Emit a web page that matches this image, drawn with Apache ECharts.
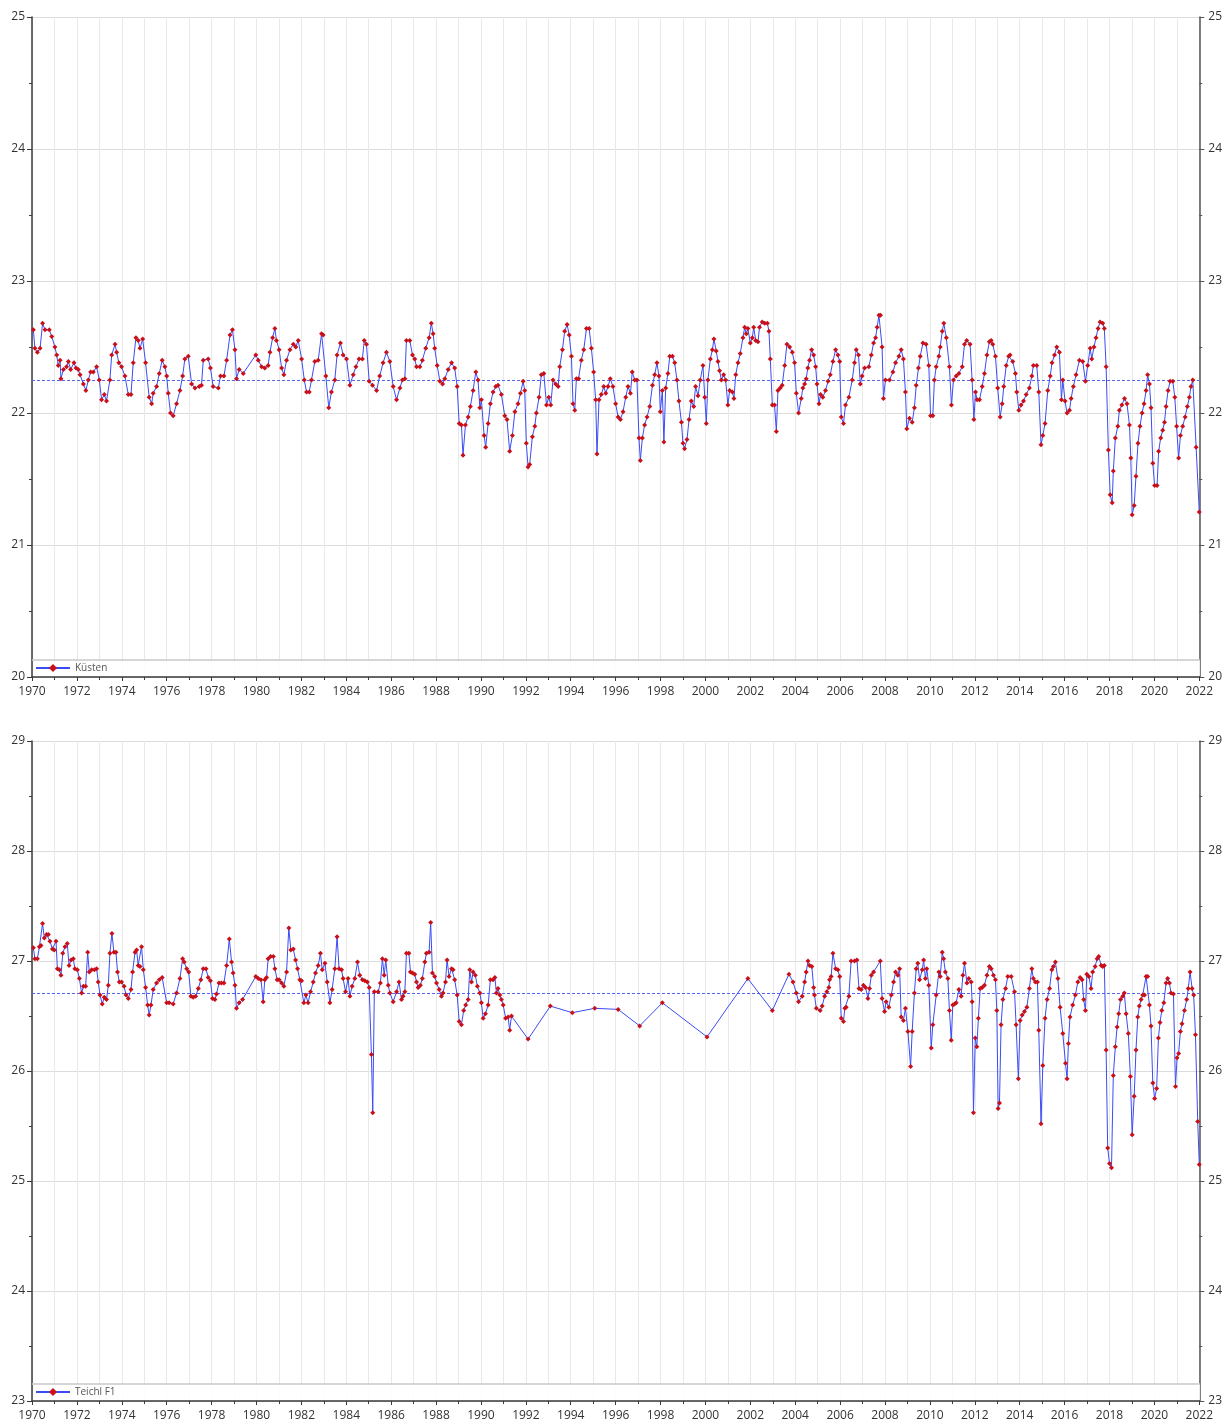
<!DOCTYPE html>
<html><head><meta charset="utf-8">
<script src="https://cdn.jsdelivr.net/npm/echarts@6/dist/echarts.min.js"></script>
<style>html,body{margin:0;padding:0;background:#fff}#c{width:1225px;height:1423px}</style>
</head><body><div id="c"></div>
<script>
// ---- data ----
const xRange = [1970, 2022];
const xStep = 2;

const kuestenName = 'Küsten';
const kuestenRange = [20, 25];
const kuestenMean = 22.25;
const kuestenData = [
[1970.06,22.63],[1970.13,22.49],[1970.24,22.46],[1970.36,22.49],[1970.47,22.68],[1970.58,22.63],[1970.77,22.63],[1970.88,22.58],[1971.02,22.50],[1971.10,22.44],[1971.17,22.36],[1971.25,22.40],[1971.29,22.26],[1971.40,22.33],[1971.54,22.35],[1971.62,22.39],[1971.72,22.33],[1971.87,22.38],[1971.96,22.34],[1972.06,22.33],[1972.14,22.29],[1972.29,22.22],[1972.40,22.17],[1972.51,22.25],[1972.61,22.31],[1972.73,22.31],[1972.88,22.35],[1973.00,22.25],[1973.10,22.10],[1973.22,22.14],[1973.32,22.09],[1973.47,22.25],[1973.55,22.44],[1973.70,22.52],[1973.77,22.46],[1973.87,22.38],[1973.99,22.35],[1974.14,22.28],[1974.29,22.14],[1974.41,22.14],[1974.51,22.38],[1974.63,22.57],[1974.73,22.55],[1974.81,22.49],[1974.93,22.56],[1975.06,22.38],[1975.22,22.12],[1975.33,22.07],[1975.40,22.15],[1975.55,22.20],[1975.67,22.30],[1975.80,22.40],[1975.92,22.35],[1976.00,22.28],[1976.07,22.15],[1976.17,22.00],[1976.29,21.98],[1976.44,22.07],[1976.59,22.17],[1976.71,22.28],[1976.81,22.41],[1976.96,22.43],[1977.11,22.22],[1977.26,22.19],[1977.45,22.20],[1977.55,22.21],[1977.63,22.40],[1977.85,22.41],[1977.95,22.34],[1978.07,22.20],[1978.30,22.19],[1978.40,22.28],[1978.55,22.28],[1978.67,22.40],[1978.82,22.59],[1978.93,22.63],[1979.04,22.48],[1979.11,22.26],[1979.23,22.33],[1979.41,22.30],[1979.97,22.44],[1980.08,22.40],[1980.23,22.35],[1980.37,22.34],[1980.52,22.36],[1980.60,22.46],[1980.72,22.57],[1980.82,22.64],[1980.89,22.55],[1981.01,22.48],[1981.12,22.34],[1981.22,22.29],[1981.34,22.40],[1981.49,22.48],[1981.64,22.52],[1981.75,22.50],[1981.86,22.55],[1982.01,22.41],[1982.13,22.25],[1982.23,22.16],[1982.35,22.16],[1982.45,22.25],[1982.60,22.39],[1982.75,22.40],[1982.90,22.60],[1982.97,22.59],[1983.09,22.28],[1983.22,22.04],[1983.34,22.16],[1983.49,22.25],[1983.59,22.44],[1983.74,22.53],[1983.86,22.44],[1984.01,22.41],[1984.16,22.21],[1984.31,22.29],[1984.43,22.35],[1984.57,22.41],[1984.72,22.41],[1984.80,22.55],[1984.90,22.52],[1985.02,22.24],[1985.17,22.21],[1985.35,22.17],[1985.49,22.28],[1985.64,22.38],[1985.79,22.46],[1985.94,22.39],[1986.09,22.20],[1986.24,22.10],
[1986.39,22.19],[1986.50,22.25],[1986.61,22.26],[1986.68,22.55],[1986.83,22.55],[1986.95,22.44],[1987.05,22.41],[1987.13,22.35],[1987.28,22.35],[1987.39,22.40],[1987.54,22.49],[1987.69,22.57],[1987.79,22.68],[1987.87,22.60],[1987.94,22.49],[1988.05,22.36],[1988.17,22.24],[1988.29,22.22],[1988.39,22.26],[1988.54,22.33],[1988.69,22.38],[1988.83,22.34],[1988.94,22.20],[1989.03,21.92],[1989.13,21.91],[1989.20,21.68],[1989.31,21.91],[1989.43,21.97],[1989.53,22.05],[1989.65,22.17],[1989.77,22.31],[1989.87,22.25],[1989.95,22.04],[1990.02,22.10],[1990.14,21.83],[1990.21,21.74],[1990.32,21.92],[1990.42,22.07],[1990.54,22.16],[1990.66,22.20],[1990.76,22.21],[1990.91,22.14],[1991.06,21.98],[1991.16,21.95],[1991.28,21.71],[1991.40,21.83],[1991.51,22.01],[1991.65,22.07],[1991.76,22.15],[1991.88,22.24],[1991.95,22.17],[1992.02,21.77],[1992.10,21.59],[1992.17,21.61],[1992.29,21.82],[1992.40,21.90],[1992.47,22.00],[1992.59,22.12],[1992.69,22.29],[1992.80,22.30],[1992.92,22.06],[1993.02,22.12],[1993.11,22.06],[1993.21,22.25],[1993.33,22.22],[1993.44,22.20],[1993.51,22.35],[1993.63,22.48],[1993.73,22.62],[1993.84,22.67],[1993.93,22.59],[1994.03,22.43],[1994.10,22.07],[1994.18,22.02],[1994.25,22.26],[1994.35,22.26],[1994.47,22.40],[1994.58,22.48],[1994.70,22.64],[1994.82,22.64],[1994.92,22.49],[1995.02,22.31],[1995.11,22.10],[1995.17,21.69],[1995.26,22.10],[1995.36,22.14],[1995.47,22.20],[1995.56,22.15],[1995.66,22.20],[1995.76,22.26],[1995.88,22.20],[1996.00,22.07],[1996.11,21.97],[1996.21,21.95],[1996.33,22.01],[1996.45,22.12],[1996.55,22.20],[1996.66,22.15],[1996.74,22.31],[1996.85,22.25],[1996.95,22.25],[1997.04,21.81],[1997.10,21.64],[1997.19,21.81],[1997.29,21.91],[1997.40,21.97],[1997.52,22.05],[1997.64,22.21],[1997.74,22.29],[1997.84,22.38],[1997.93,22.28],[1997.99,22.01],[1998.08,22.17],[1998.15,21.78],[1998.23,22.19],[1998.33,22.30],[1998.41,22.43],[1998.53,22.43],[1998.63,22.38],[1998.73,22.25],[1998.82,22.09],[1998.93,21.93],[1999.00,21.77],[1999.07,21.73],[1999.18,21.80],[1999.27,21.95],[1999.37,22.09],[1999.48,22.05],[1999.56,22.20],[1999.67,22.13],[1999.77,22.25],[1999.89,22.36],[1999.97,22.12],[2000.04,21.92],[2000.11,22.25],[2000.22,22.41],[2000.31,22.48],[2000.38,22.56],[2000.48,22.47],[2000.56,22.39],[2000.63,22.32],[2000.71,22.25],[2000.81,22.29],[2000.90,22.25],[2001.00,22.06],[2001.08,22.17],[2001.20,22.16],[2001.27,22.11],[2001.35,22.29],[2001.45,22.38],[2001.55,22.45],[2001.67,22.57],[2001.75,22.65],[2001.82,22.60],[2001.89,22.64],[2002.00,22.53],[2002.09,22.57],[2002.15,22.65],[2002.24,22.55],[2002.34,22.54],[2002.41,22.65],[2002.53,22.69],[2002.64,22.68],[2002.76,22.68],[2002.83,22.62],[2002.89,22.41],[2002.98,22.06],[2003.08,22.06],[2003.16,21.86],[2003.23,22.17],[2003.33,22.19],[2003.42,22.21],[2003.53,22.36],[2003.63,22.52],[2003.75,22.50],[2003.87,22.46],[2003.97,22.38],[2004.05,22.15],[2004.15,22.00],
[2004.27,22.11],[2004.34,22.19],[2004.42,22.22],[2004.49,22.26],[2004.56,22.34],[2004.64,22.40],[2004.73,22.48],[2004.82,22.44],[2004.91,22.35],[2004.97,22.22],[2005.06,22.07],[2005.13,22.14],[2005.23,22.12],[2005.35,22.17],[2005.46,22.24],[2005.56,22.29],[2005.68,22.39],[2005.80,22.48],[2005.90,22.44],[2005.98,22.39],[2006.05,21.97],[2006.15,21.92],[2006.24,22.06],[2006.39,22.12],[2006.54,22.25],[2006.64,22.38],[2006.72,22.48],[2006.82,22.44],[2006.90,22.22],[2006.98,22.28],[2007.09,22.34],[2007.28,22.35],[2007.39,22.44],[2007.49,22.53],[2007.58,22.57],[2007.65,22.65],[2007.73,22.74],[2007.80,22.74],[2007.87,22.50],[2007.93,22.11],[2008.02,22.25],[2008.20,22.25],[2008.35,22.31],[2008.47,22.38],[2008.62,22.43],[2008.72,22.48],[2008.82,22.41],[2008.91,22.16],[2008.97,21.88],[2009.09,21.96],[2009.21,21.93],[2009.31,22.04],[2009.39,22.21],[2009.49,22.34],[2009.57,22.43],[2009.69,22.53],[2009.83,22.52],[2009.95,22.36],[2010.03,21.98],[2010.13,21.98],[2010.20,22.25],[2010.28,22.35],[2010.40,22.43],[2010.46,22.50],[2010.55,22.62],[2010.62,22.68],[2010.73,22.57],[2010.87,22.35],[2010.96,22.06],[2011.05,22.25],[2011.17,22.28],[2011.29,22.30],[2011.44,22.35],[2011.54,22.52],[2011.64,22.55],[2011.79,22.52],[2011.88,22.25],[2011.96,21.95],[2012.03,22.16],[2012.10,22.10],[2012.21,22.10],[2012.33,22.20],[2012.43,22.30],[2012.54,22.44],[2012.65,22.54],[2012.73,22.55],[2012.80,22.52],[2012.92,22.43],[2013.02,22.19],[2013.13,21.97],[2013.22,22.07],[2013.29,22.20],[2013.40,22.36],[2013.51,22.43],[2013.57,22.44],[2013.69,22.39],[2013.81,22.30],[2013.87,22.16],[2013.96,22.02],[2014.06,22.06],[2014.17,22.09],[2014.29,22.14],[2014.43,22.19],[2014.54,22.28],[2014.61,22.36],[2014.76,22.36],[2014.85,22.16],[2014.95,21.76],[2015.03,21.83],[2015.13,21.92],[2015.25,22.17],[2015.36,22.28],[2015.44,22.38],[2015.55,22.44],[2015.65,22.50],[2015.77,22.46],[2015.86,22.10],[2015.92,22.25],[2016.02,22.09],[2016.11,22.00],[2016.22,22.02],[2016.29,22.11],[2016.39,22.20],[2016.51,22.29],[2016.66,22.40],[2016.81,22.39],[2016.93,22.24],[2017.03,22.36],[2017.14,22.49],[2017.21,22.41],[2017.31,22.50],[2017.40,22.57],[2017.49,22.64],[2017.58,22.69],[2017.70,22.68],[2017.77,22.64],[2017.85,22.35],[2017.95,21.72],[2018.03,21.38],[2018.12,21.32],[2018.17,21.56],[2018.26,21.81],[2018.37,21.90],[2018.44,22.02],[2018.55,22.06],[2018.67,22.11],[2018.78,22.07],[2018.89,21.91],[2018.95,21.66],[2019.01,21.23],[2019.10,21.30],[2019.18,21.52],[2019.27,21.77],[2019.36,21.90],[2019.45,22.00],[2019.54,22.07],[2019.63,22.17],[2019.70,22.29],[2019.78,22.22],[2019.85,22.04],[2019.93,21.62],[2020.01,21.45],[2020.12,21.45],[2020.19,21.71],[2020.28,21.81],[2020.37,21.87],[2020.45,21.93],[2020.52,22.05],[2020.61,22.17],[2020.70,22.24],[2020.82,22.24],[2020.91,22.12],[2020.99,21.90],[2021.08,21.66],[2021.16,21.83],[2021.26,21.90],[2021.37,21.97],[2021.47,22.05],[2021.56,22.12],[2021.63,22.20],[2021.71,22.25],[2021.86,21.74],[2022.00,21.25]
];

const teichlName = 'Teichl F1';
const teichlRange = [23, 29];
const teichlMean = 26.71;
const teichlData = [
[1970.06,27.12],[1970.13,27.02],[1970.24,27.02],[1970.33,27.13],[1970.40,27.14],[1970.47,27.34],[1970.55,27.21],[1970.65,27.24],[1970.73,27.24],[1970.80,27.18],[1970.91,27.11],[1970.99,27.10],[1971.07,27.18],[1971.13,26.93],[1971.22,26.92],[1971.29,26.87],[1971.37,27.07],[1971.47,27.13],[1971.57,27.16],[1971.65,26.96],[1971.74,27.01],[1971.84,27.02],[1971.91,26.93],[1972.02,26.92],[1972.11,26.84],[1972.21,26.71],[1972.29,26.77],[1972.39,26.77],[1972.48,27.08],[1972.55,26.90],[1972.66,26.92],[1972.78,26.92],[1972.88,26.93],[1972.95,26.81],[1973.03,26.69],[1973.13,26.61],[1973.22,26.67],[1973.32,26.65],[1973.40,26.78],[1973.47,27.07],[1973.56,27.25],[1973.65,27.08],[1973.74,27.08],[1973.81,26.90],[1973.89,26.81],[1973.99,26.81],[1974.10,26.77],[1974.19,26.69],[1974.29,26.66],[1974.41,26.74],[1974.48,26.90],[1974.59,27.08],[1974.66,27.10],[1974.73,26.96],[1974.81,26.95],[1974.88,27.13],[1974.96,26.92],[1975.06,26.76],[1975.15,26.60],[1975.22,26.51],[1975.30,26.60],[1975.40,26.74],[1975.55,26.80],[1975.67,26.83],[1975.80,26.85],[1976.00,26.62],[1976.11,26.62],[1976.29,26.61],[1976.44,26.71],[1976.59,26.84],[1976.71,27.02],[1976.78,26.99],[1976.89,26.93],[1976.98,26.90],[1977.08,26.68],[1977.18,26.67],[1977.29,26.68],[1977.41,26.75],[1977.52,26.83],[1977.63,26.93],[1977.75,26.93],[1977.85,26.85],[1977.95,26.82],[1978.04,26.66],[1978.15,26.65],[1978.22,26.70],[1978.33,26.80],[1978.44,26.80],[1978.55,26.80],[1978.67,26.96],[1978.79,27.20],[1978.89,26.99],[1978.96,26.89],[1979.04,26.78],[1979.11,26.57],[1979.23,26.62],[1979.38,26.65],[1979.97,26.86],[1980.08,26.84],[1980.20,26.83],[1980.30,26.63],[1980.37,26.83],[1980.45,26.85],[1980.52,27.02],[1980.63,27.04],[1980.75,27.04],[1980.82,26.93],[1980.92,26.83],[1981.01,26.83],[1981.12,26.80],[1981.22,26.77],[1981.34,26.90],[1981.44,27.30],[1981.53,27.10],[1981.64,27.11],[1981.74,27.01],[1981.83,26.93],[1981.93,26.83],[1982.01,26.82],[1982.11,26.62],[1982.20,26.69],[1982.30,26.62],[1982.41,26.72],[1982.53,26.81],[1982.63,26.89],[1982.75,26.96],[1982.85,27.07],[1982.93,26.92],[1983.05,26.98],[1983.15,26.81],[1983.27,26.62],[1983.37,26.74],[1983.49,26.93],[1983.59,27.22],[1983.68,26.93],[1983.79,26.92],[1983.86,26.84],[1983.97,26.72],[1984.08,26.84],[1984.16,26.68],[1984.26,26.77],[1984.38,26.84],[1984.50,26.99],[1984.60,26.87],[1984.72,26.83],[1984.83,26.82],[1984.94,26.81],[1985.02,26.76],[1985.12,26.15],[1985.18,25.62],[1985.25,26.72],[1985.42,26.72],[1985.52,26.80],[1985.61,27.02],[1985.69,26.87],[1985.76,27.01],[1985.87,26.78],[1985.94,26.71],[1986.09,26.63],[1986.24,26.72],[1986.35,26.81],
[1986.46,26.65],[1986.53,26.68],[1986.61,26.72],[1986.68,27.07],[1986.79,27.07],[1986.86,26.90],[1986.95,26.89],[1987.05,26.88],[1987.13,26.81],[1987.20,26.76],[1987.30,26.78],[1987.39,26.84],[1987.50,26.99],[1987.57,27.07],[1987.69,27.08],[1987.76,27.35],[1987.84,26.89],[1987.94,26.86],[1988.02,26.80],[1988.14,26.74],[1988.24,26.68],[1988.31,26.71],[1988.42,26.81],[1988.49,27.01],[1988.58,26.86],[1988.69,26.93],[1988.76,26.92],[1988.83,26.83],[1988.94,26.69],[1989.03,26.45],[1989.13,26.42],[1989.23,26.55],[1989.32,26.60],[1989.43,26.65],[1989.50,26.92],[1989.58,26.81],[1989.65,26.90],[1989.75,26.87],[1989.84,26.77],[1989.95,26.71],[1990.02,26.62],[1990.10,26.48],[1990.20,26.52],[1990.32,26.60],[1990.42,26.83],[1990.54,26.83],[1990.62,26.85],[1990.69,26.71],[1990.76,26.75],[1990.84,26.69],[1990.91,26.65],[1990.99,26.60],[1991.10,26.48],[1991.21,26.49],[1991.28,26.37],[1991.36,26.50],[1992.10,26.29],[1993.09,26.59],[1994.07,26.53],[1995.07,26.57],[1996.11,26.56],[1997.07,26.41],[1998.08,26.62],[2000.07,26.31],[2001.89,26.84],[2002.98,26.55],[2003.72,26.88],[2003.90,26.81],[2004.05,26.71],[2004.15,26.63],
[2004.31,26.68],[2004.42,26.81],[2004.49,26.90],[2004.57,27.00],[2004.64,26.96],[2004.74,26.95],[2004.82,26.76],[2004.86,26.69],[2004.94,26.57],[2005.11,26.55],[2005.20,26.59],[2005.31,26.68],[2005.41,26.72],[2005.50,26.76],[2005.53,26.83],[2005.60,26.86],[2005.68,27.07],[2005.80,26.93],[2005.90,26.92],[2005.98,26.86],[2006.05,26.48],[2006.15,26.45],[2006.21,26.57],[2006.27,26.58],[2006.39,26.68],[2006.49,27.00],[2006.64,27.00],[2006.75,27.01],[2006.84,26.75],[2006.94,26.74],[2007.04,26.78],[2007.13,26.76],[2007.24,26.66],[2007.31,26.75],[2007.39,26.87],[2007.49,26.90],[2007.79,27.00],[2007.87,26.66],[2007.98,26.54],[2008.05,26.63],[2008.17,26.58],[2008.28,26.69],[2008.38,26.81],[2008.47,26.90],[2008.57,26.87],[2008.65,26.93],[2008.72,26.49],[2008.82,26.46],[2008.91,26.57],[2009.02,26.36],[2009.14,26.04],[2009.21,26.36],[2009.31,26.71],[2009.39,26.93],[2009.46,26.98],[2009.54,26.83],[2009.66,26.92],[2009.72,27.01],[2009.80,26.84],[2009.86,26.93],[2009.95,26.78],[2010.06,26.21],[2010.13,26.42],[2010.28,26.69],[2010.40,26.90],[2010.46,26.86],[2010.55,27.08],[2010.61,27.02],[2010.69,26.90],[2010.80,26.84],[2010.87,26.55],[2010.95,26.28],[2011.02,26.60],[2011.10,26.61],[2011.17,26.62],[2011.29,26.74],[2011.39,26.68],[2011.47,26.87],[2011.54,26.98],[2011.65,26.80],[2011.73,26.84],[2011.84,26.81],[2011.88,26.63],[2011.94,25.62],[2012.02,26.30],[2012.09,26.22],[2012.16,26.48],[2012.24,26.75],[2012.33,26.76],[2012.43,26.78],[2012.54,26.87],[2012.65,26.95],[2012.73,26.93],[2012.83,26.87],[2012.92,26.83],[2012.98,26.55],[2013.04,25.66],[2013.10,25.71],[2013.17,26.42],[2013.25,26.65],[2013.37,26.75],[2013.47,26.86],[2013.62,26.86],[2013.77,26.72],[2013.84,26.42],[2013.94,25.93],[2014.02,26.46],[2014.11,26.51],[2014.21,26.54],[2014.32,26.58],[2014.43,26.75],[2014.54,26.93],[2014.61,26.84],[2014.70,26.81],[2014.79,26.81],[2014.85,26.37],[2014.95,25.52],[2015.03,26.05],[2015.13,26.48],[2015.22,26.65],[2015.33,26.75],[2015.43,26.92],[2015.50,26.95],[2015.59,26.99],[2015.70,26.84],[2015.80,26.58],[2015.92,26.34],[2016.04,26.07],[2016.11,25.93],[2016.17,26.25],[2016.24,26.49],[2016.36,26.60],[2016.48,26.69],[2016.59,26.81],[2016.69,26.85],[2016.78,26.83],[2016.85,26.65],[2016.93,26.55],[2016.99,26.88],[2017.08,26.86],[2017.18,26.75],[2017.25,26.90],[2017.36,26.95],[2017.45,27.02],[2017.52,27.04],[2017.63,26.96],[2017.70,26.95],[2017.77,26.96],[2017.85,26.19],[2017.92,25.30],[2018.00,25.16],[2018.09,25.12],[2018.17,25.96],[2018.26,26.22],[2018.34,26.40],[2018.41,26.52],[2018.49,26.65],[2018.59,26.68],[2018.66,26.71],[2018.74,26.52],[2018.84,26.34],[2018.93,25.95],[2019.01,25.42],[2019.10,25.77],[2019.18,26.19],[2019.26,26.49],[2019.33,26.59],[2019.41,26.65],[2019.48,26.69],[2019.56,26.69],[2019.63,26.86],[2019.70,26.86],[2019.78,26.60],[2019.85,26.41],[2019.93,25.89],[2020.01,25.75],[2020.10,25.84],[2020.18,26.30],[2020.25,26.44],[2020.33,26.55],[2020.42,26.62],[2020.52,26.80],[2020.59,26.84],[2020.67,26.80],[2020.74,26.71],[2020.85,26.70],[2020.94,25.86],[2021.01,26.12],[2021.08,26.16],[2021.16,26.36],[2021.23,26.43],[2021.34,26.55],[2021.44,26.65],[2021.51,26.75],[2021.59,26.90],[2021.68,26.75],[2021.75,26.69],[2021.83,26.33],[2021.93,25.54],[2022.00,25.15]
];

// ---- chart ----
const FONT = 'Open Sans';
const LINE = '#3b4cf5';
const MARK = '#c8101a';
const panels = [
  {name: kuestenName, data: kuestenData, range: kuestenRange, mean: kuestenMean, top: 17},
  {name: teichlName, data: teichlData, range: teichlRange, mean: teichlMean, top: 741}
];
const H = 660, L = 32, W = 1168;

const option = {
  animation: false,
  backgroundColor: '#fff',
  grid: panels.map(p => ({left: L, top: p.top, width: W, height: H, containLabel: false})),
  xAxis: panels.map((p, i) => ({
    type: 'value', gridIndex: i, min: xRange[0], max: xRange[1], interval: xStep,
    axisLine: {show: true, onZero: false, lineStyle: {color: '#3a3a3a', width: 1.5}},
    axisTick: {show: true, length: 4, lineStyle: {color: '#3a3a3a'}},
    minorTick: {show: true, splitNumber: 2, length: 3, lineStyle: {color: '#3a3a3a'}},
    axisLabel: {formatter: v => String(v), fontFamily: FONT, fontSize: 12, color: '#333', margin: 9},
    splitLine: {show: true, lineStyle: {color: '#e9e9e9', width: 1}},
    minorSplitLine: {show: true, lineStyle: {color: '#e9e9e9', width: 1}}
  })),
  yAxis: panels.flatMap((p, i) => [
    {
      type: 'value', gridIndex: i, position: 'left', min: p.range[0], max: p.range[1], interval: 1,
      axisLine: {show: true, onZero: false, lineStyle: {color: '#3a3a3a', width: 1.5}},
      axisTick: {show: true, length: 5, lineStyle: {color: '#3a3a3a'}},
      minorTick: {show: true, splitNumber: 2, length: 3, lineStyle: {color: '#3a3a3a'}},
      axisLabel: {fontFamily: FONT, fontSize: 12, color: '#333', margin: 7},
      splitLine: {show: true, lineStyle: {color: '#dcdcdc', width: 1}}
    },
    {
      type: 'value', gridIndex: i, position: 'right', min: p.range[0], max: p.range[1], interval: 1,
      axisLine: {show: true, onZero: false, lineStyle: {color: '#555', width: 1.5}},
      axisTick: {show: true, length: 5, lineStyle: {color: '#555'}},
      minorTick: {show: true, splitNumber: 2, length: 3, lineStyle: {color: '#555'}},
      axisLabel: {fontFamily: FONT, fontSize: 12, color: '#333', margin: 9},
      splitLine: {show: false}
    }
  ]),
  legend: panels.map((p, i) => ({
    data: [p.name], left: L + 1, top: p.top + H - 16, z: 20,
    itemWidth: 34, itemHeight: 10, itemGap: 4, padding: [2, 2, 2, 2],
    textStyle: {fontFamily: FONT, fontSize: 10, color: '#555'}
  })),
  graphic: panels.flatMap(p => [
    {type: 'rect', z: 10, shape: {x: L + 1, y: p.top + H - 17, width: W - 1, height: 16},
     style: {fill: 'rgba(255,255,255,0.85)'}},
    {type: 'line', z: 11, shape: {x1: L, y1: p.top + H - 17, x2: L + W, y2: p.top + H - 17},
     style: {stroke: '#c8c8c8', lineWidth: 1.5}}
  ]),
  series: panels.map((p, i) => ({
    name: p.name, type: 'line', xAxisIndex: i, yAxisIndex: i * 2,
    data: p.data, symbol: 'diamond', symbolSize: 5, showSymbol: true,
    itemStyle: {color: MARK}, lineStyle: {color: LINE, width: 1}, z: 5,
    markLine: {
      silent: true, symbol: ['none', 'none'], label: {show: false},
      lineStyle: {color: '#5566ee', type: [3, 2], width: 1},
      data: [{yAxis: p.mean}]
    }
  }))
};
const chart = echarts.init(document.getElementById('c'), null, {renderer: 'canvas'});
chart.setOption(option);
</script></body></html>
